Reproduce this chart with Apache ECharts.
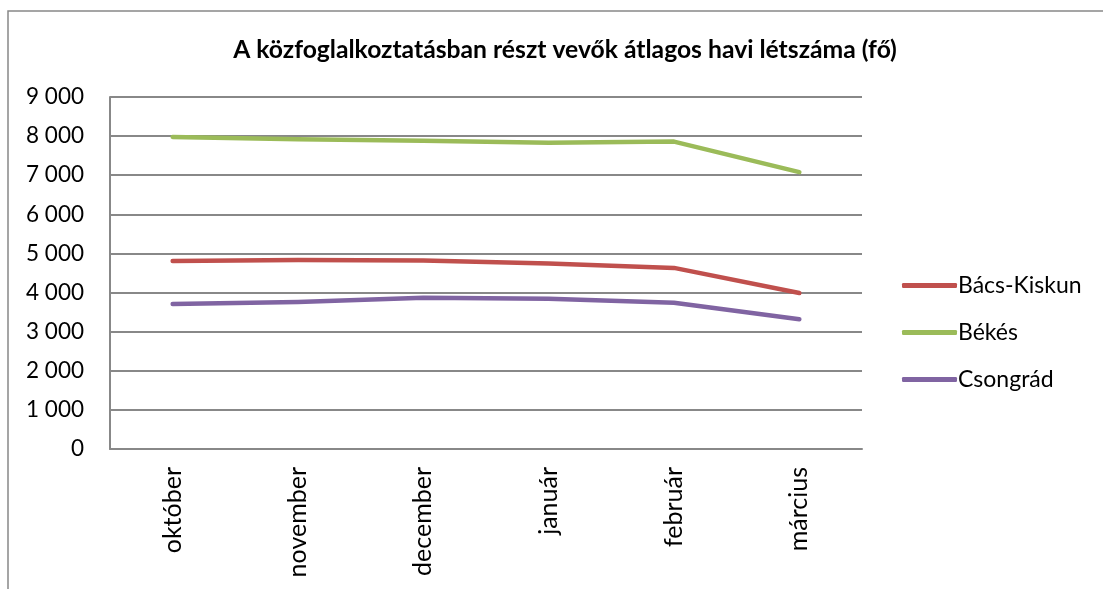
<!DOCTYPE html>
<html>
<head>
<meta charset="utf-8">
<script src="https://cdn.jsdelivr.net/npm/echarts@6/dist/echarts.min.js"></script>
<style>
  html, body { margin: 0; padding: 0; background: #fff; }
  #main { width: 1103px; height: 589px; }
</style>
</head>
<body>
<div id="main"></div>
<script>
// adatok
var months = ["október", "november", "december", "január", "február", "március"];
var bacsKiskun = [4810, 4830, 4820, 4740, 4630, 3990];
var bekes = [7980, 7920, 7880, 7830, 7860, 7080];
var csongrad = [3710, 3760, 3870, 3840, 3740, 3320];
var yTicks = [0, 1000, 2000, 3000, 4000, 5000, 6000, 7000, 8000, 9000];

var fontFam = "Lato, 'Open Sans', sans-serif";

function fmt(v) {
  // ezres tagolás szóközzel
  return String(v).replace(/\B(?=(\d{3})+(?!\d))/g, " ");
}

function mkSeries(name, data, color) {
  return {
    name: name,
    type: "line",
    data: data,
    symbol: "none",
    lineStyle: { color: color, width: 4.5, cap: "round", join: "round" },
    itemStyle: { color: color },
  };
}

var chart = echarts.init(document.getElementById("main"));
chart.setOption({
  animation: false,
  backgroundColor: "#fff",
  title: {
    text: "A közfoglalkoztatásban részt vevők átlagos havi létszáma (fő)",
    left: 560,
    top: 33,
    textAlign: "center",
    textStyle: { fontFamily: fontFam, fontWeight: "bold", fontSize: 24.7, color: "#000" },
  },
  graphic: [
    {
      // keret (csak bal és felső él látszik)
      type: "polyline",
      shape: { points: [[8, 600], [8, 11], [1110, 11]] },
      style: { stroke: "#888", lineWidth: 1.5, fill: null },
      silent: true,
    },
  ],
  legend: {
    orient: "vertical",
    left: 897,
    top: 267,
    itemGap: 20,
    itemWidth: 55,
    itemHeight: 5,
    icon: "roundRect",
    data: ["Bács-Kiskun", "Békés", "Csongrád"],
    textStyle: { fontFamily: fontFam, fontSize: 23, lineHeight: 27, color: "#000", padding: [0, 0, 0, -4] },
  },
  grid: { left: 110, top: 97, width: 752, height: 352, containLabel: false },
  xAxis: {
    type: "category",
    data: months,
    boundaryGap: true,
    axisLine: { lineStyle: { color: "#888", width: 2 } },
    axisTick: { show: false },
    axisLabel: { rotate: 90, margin: 18, fontFamily: fontFam, fontSize: 25, color: "#000" },
  },
  yAxis: {
    type: "value",
    min: 0,
    max: 9000,
    interval: 1000,
    axisLine: { show: true, lineStyle: { color: "#888", width: 2 } },
    axisTick: { show: false },
    splitLine: { lineStyle: { color: "#888", width: 2 } },
    axisLabel: {
      margin: 26,
      fontFamily: fontFam,
      fontSize: 22.5,
      color: "#000",
      formatter: function (v) { return yTicks.indexOf(v) >= 0 ? fmt(v) : ""; },
    },
  },
  series: [
    mkSeries("Bács-Kiskun", bacsKiskun, "#C0504D"),
    mkSeries("Békés", bekes, "#9BBB59"),
    mkSeries("Csongrád", csongrad, "#8064A2"),
  ],
});
</script>
</body>
</html>
